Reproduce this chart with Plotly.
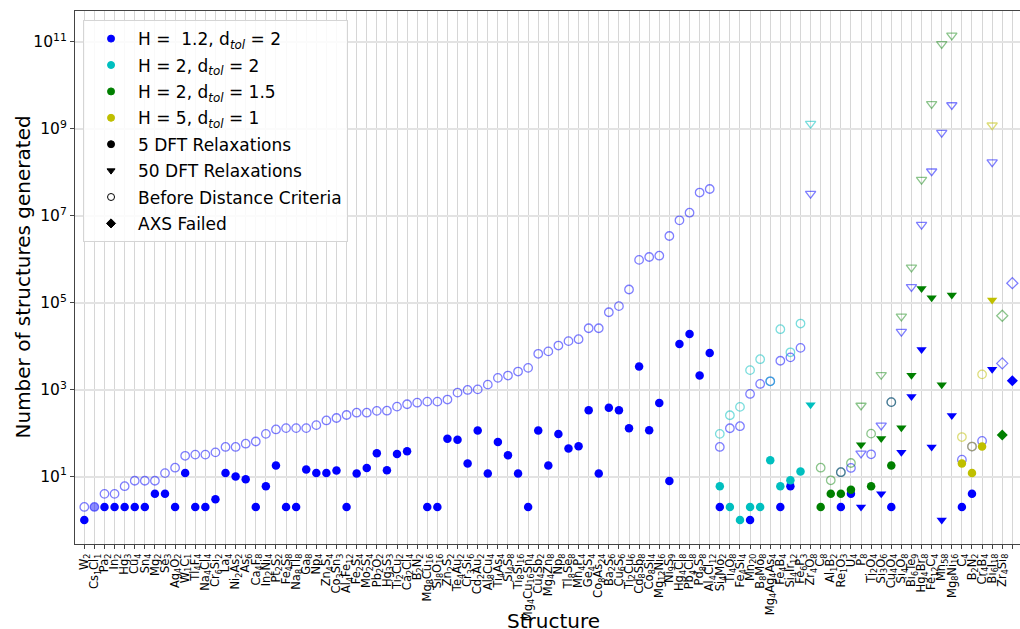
import re
import plotly.graph_objects as go

N = None

structures = [
    "W2", "Cs1Cl1", "Pa2", "In2", "Hg3", "Cu4", "Sn4", "Mg2", "Se3", "Ag4O2",
    "W1C1", "Tl4F4", "Na4Cl4", "Cr6Si2", "La4", "Ni2As2", "As6", "Ca4F8", "In2Ni4", "Pt2S2",
    "Fe4S8", "Na8Tl8", "Ga8", "Np4", "Zn4S4", "Co3Sn3", "Al4Fe12", "Fe2S4", "Mo2S4", "Pb2O2",
    "Hg3S3", "Ti2Cu2", "Ca2Cl4", "B2N2", "Mg8Cu16", "Si8O16", "Zn2S2", "Te4Au2", "Cr3Si6", "Cd2Au2",
    "Al8Cu4", "Ti4As4", "Si4S8", "Ti8Si16", "Mg4Cu16Sn4", "Cu4Sb2", "Mg4Zn8", "Np8", "Tl8Se8", "Mn4P4",
    "Ge4S4", "Co8As24", "Ba2S6", "Cu6S6", "Ti2Cu6", "Cd8Sb8", "Co8Si4", "Mg12Ni6", "Ni9S9", "Hg4Cl8",
    "Pb4Cl8", "Pd8S8", "Al4Cl12", "Si4Mo2", "Ti4O8", "Fe4Si4", "Mn20", "B8Mo8", "Mg4Ag4As4", "Fe4B4",
    "Si4Ir12", "Fe6P3", "Zr4O8", "C8", "Al1B2", "Re1O3", "U4", "P8", "Ti2O4", "Si3O6",
    "Cu4O4", "Si4O8", "Bi6Te9", "Hg4Br8", "Fe12C4", "Mn58", "Mg8Ni16", "C4", "B2N2", "Cr4B4",
    "Bi6I18", "Zr4Si8", "Nb3Si6", "Cd4Sb4",
]

# relaxation type per structure: "5" = 5 DFT, "50" = 50 DFT, "F" = AXS failed
relax = (["5"] * 72 +
         ["50", "5", "5", "5", "5", "50", "5", "50", "5",
          "50", "50", "50", "50", "50", "50", "5", "5", "5", "50", "F", "F", "5"])

# H = 1.2, d_tol = 2
blue_before = [
    2, 2, 4, 4, 6, 8, 8, 8, 12, 16,
    30, 32, 32, 36, 48, 48, 57, 64, 96, 121,
    130, 130, 130, 152, 195, 222, 260, 294, 294, 324,
    327, 405, 460, 500, 528, 528, 590, 850, 982, 1010,
    1300, 1860, 2100, 2600, 3160, 6650, 7550, 10300, 13000, 14400,
    25700, 25700, 60000, 83000, 2.0e5, 9.6e5, 1.12e6, 1.2e6, 3.4e6, 7.8e6,
    1.17e7, 3.4e7, 4.1e7, 48, 129, 144, 795, 1350, 1550, 4600,
    5500, 9100, 3.2e7, N, N, 12.6, 15.8, 34, 32.5, 150,
    515, 21500, 2.3e5, 6.2e6, 1.05e8, 8.1e8, 3.5e9, 24.5, 49, 66,
    1.7e8, 4000, 2.8e5, 4.7e7,
]
blue_after = [
    1, 2, 2, 2, 2, 2, 2, 4, 4, 2,
    12, 2, 2, 3, 12, 10, 8.7, 2, 6, 18,
    2, 2, 14.5, 12, 12, 13.8, 2, 11.7, 15.8, 34.5,
    14, 33, 38, N, 2, 2, 74, 70, 20, 115,
    11.7, 62, 31, 11.7, 2, 115, 18, 95, 44, 50,
    335, 11.7, 380, 335, 129, 3400, 116, 490, 7.9, 11200,
    19000, 2100, 6900, 2, N, N, 1, N, N, 2,
    6, N, N, N, N, 2, 4, 2, N, 4,
    2, 36, 690, 8300, 48, 1, 254, 2, 4, N,
    2950, N, 1600, 8e5,
]
faded_points = [1]

# H = 2, d_tol = 2
cyan_before = [N] * 63 + [96, 257, 400, 2800, 5000, 1550, 24500, 7200, 33000, 1.3e9] + [N] * 21
cyan_after = [N] * 63 + [6, 2, 1, 2, 2, 23.7, 6, 8.2, 13, 445] + [N] * 21

# H = 2, d_tol = 1.5
green_before = ([N] * 73 +
                [16, 8.2, 12.6, 20.5, 430, 97, 2190, 515, 48000, 6.45e5, 6.7e7, 3.7e9, 8.9e10, 1.4e11] +
                [N] * 4 + [50000] + [N, N])
green_after = ([N] * 73 +
               [2, 4, 4, 5, 54, 6, 75, 18, 132, 2150, 2.1e5, 1.3e5, 1300, 1.5e5] +
               [N] * 4 + [90] + [N, N])

# H = 5, d_tol = 1
yellow_before = [N] * 87 + [81, 49, 2240, 1.2e9] + [N] * 3
yellow_after = [N] * 87 + [20, 12, 49, 1.15e5] + [N] * 3

y_tick_vals = [1e1, 1e3, 1e5, 1e7, 1e9, 1e11]
y_tick_text = ["10<sup>1</sup>", "10<sup>3</sup>", "10<sup>5</sup>", "10<sup>7</sup>",
               "10<sup>9</sup>", "10<sup>11</sup>"]


def sub(formula):
    return re.sub(r"(\d+)", r"<sub>\1</sub>", formula)


sym_fill = {"5": "circle", "50": "triangle-down", "F": "diamond"}
sym_size = {"5": 8.5, "50": 9, "F": 8.5}

series = [
    ("blue", "rgb(0,0,255)", "rgba(0,0,255,0.72)", blue_before, blue_after),
    ("cyan", "rgb(0,191,191)", "rgba(0,191,191,0.75)", cyan_before, cyan_after),
    ("green", "rgb(0,128,0)", "rgba(0,128,0,0.65)", green_before, green_after),
    ("yellow", "rgb(191,191,0)", "rgba(191,191,0,0.75)", yellow_before, yellow_after),
]

fig = go.Figure()
xs = list(range(len(structures)))

for name, col, col_open, before, after in series:
    idx = [i for i in xs if before[i] is not None]
    fig.add_trace(go.Scatter(
        x=idx, y=[before[i] for i in idx], mode="markers", showlegend=False,
        cliponaxis=False, hoverinfo="skip",
        marker=dict(symbol=[sym_fill[relax[i]] + "-open" for i in idx],
                    size=[sym_size[relax[i]] for i in idx],
                    color=col_open, line=dict(color=col_open, width=1.3)),
    ))
    idx = [i for i in xs if after[i] is not None]
    op = [0.45 if (name == "blue" and i in faded_points) else 1.0 for i in idx]
    fig.add_trace(go.Scatter(
        x=idx, y=[after[i] for i in idx], mode="markers", showlegend=False,
        cliponaxis=False, hoverinfo="skip",
        marker=dict(symbol=[sym_fill[relax[i]] for i in idx],
                    size=[sym_size[relax[i]] for i in idx],
                    color=col, opacity=op, line=dict(width=0)),
    ))

legend_items = [
    ("H =  1.2, d<sub><i>tol</i></sub> = 2", "circle", "rgb(0,0,255)"),
    ("H = 2, d<sub><i>tol</i></sub> = 2", "circle", "rgb(0,191,191)"),
    ("H = 2, d<sub><i>tol</i></sub> = 1.5", "circle", "rgb(0,128,0)"),
    ("H = 5, d<sub><i>tol</i></sub> = 1", "circle", "rgb(191,191,0)"),
    ("5 DFT Relaxations", "circle", "black"),
    ("50 DFT Relaxations", "triangle-down", "black"),
    ("Before Distance Criteria", "circle-open", "black"),
    ("AXS Failed", "diamond", "black"),
]
for k, (label, sym, col) in enumerate(legend_items):
    fig.add_trace(go.Scatter(
        x=[None], y=[None], mode="markers", name=label, legendgroup=f"g{k}",
        marker=dict(symbol=sym, size=7, color=col, line=dict(color=col, width=1)),
    ))

fig.update_layout(
    width=1020, height=629,
    margin=dict(l=75, r=0, t=11, b=85, autoexpand=False),
    paper_bgcolor="white", plot_bgcolor="white",
    font=dict(family="DejaVu Sans", color="black"),
    legend=dict(x=0.0085, y=0.983, xanchor="left", yanchor="top",
                bgcolor="rgba(255,255,255,0.85)", bordercolor="#d5d5d5", borderwidth=1,
                font=dict(size=17, family="DejaVu Sans"), tracegroupgap=1.3,
                itemwidth=44),
    xaxis=dict(
        range=[-0.922, 92.76], tickmode="array", tickvals=xs,
        ticktext=[sub(s) for s in structures], tickangle=-90,
        tickfont=dict(size=11.5, family="DejaVu Sans"), automargin=False,
        showgrid=True, gridcolor="#d6d6d6", gridwidth=1,
        showline=True, linecolor="#444", linewidth=1, mirror=True,
        ticks="outside", ticklen=4, tickcolor="#444", zeroline=False,
    ),
    yaxis=dict(
        type="log", range=[-0.551, 11.706], tickmode="array",
        tickvals=y_tick_vals, ticktext=y_tick_text, automargin=False,
        tickfont=dict(size=15.5, family="DejaVu Sans"),
        showgrid=True, gridcolor="#e3e3e3", gridwidth=1.5,
        showline=True, linecolor="#444", linewidth=1, mirror=False,
        ticks="outside", ticklen=4, tickcolor="#444", zeroline=False,
    ),
    annotations=[
        dict(text="Structure", xref="paper", yref="paper", x=(553 - 75) / 945, y=-(621 - 544) / 533,
             xanchor="center", yanchor="middle", showarrow=False,
             font=dict(size=20, family="DejaVu Sans")),
        dict(text="Number of structures generated", xref="paper", yref="paper",
             x=-(75 - 22) / 945, y=0.5, xanchor="center", yanchor="middle", textangle=-90,
             showarrow=False, font=dict(size=20, family="DejaVu Sans")),
    ],
)

fig.write_html(
    "out.html",
    config={"displayModeBar": False},
    post_script="document.body.style.margin='0';document.documentElement.style.overflow='hidden';",
)
